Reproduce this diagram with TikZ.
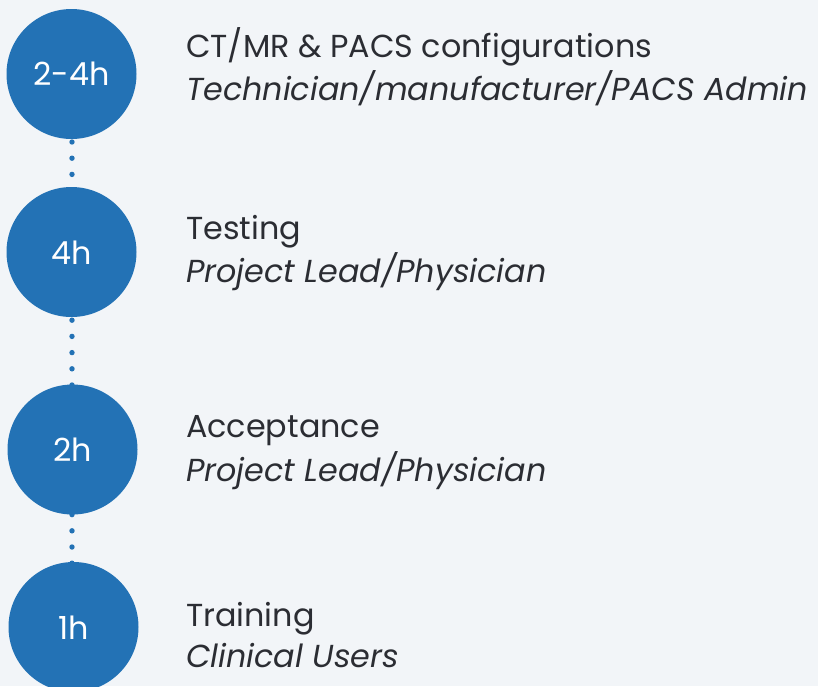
\documentclass[tikz,border=0pt]{standalone}
\usepackage{fontspec}
\setmainfont{Poppins}
\definecolor{bgc}{HTML}{F2F5F8}
\definecolor{stepblue}{HTML}{2372B5}
\definecolor{txt}{HTML}{2B2D33}
\tikzset{
  stepcircle/.style={circle, fill=stepblue, minimum size=130pt, inner sep=0pt},
  steplabel/.style={text=white, font=\fontsize{31.8}{36}\selectfont, anchor=base},
  titletext/.style={text=txt, font=\fontsize{31.8}{36}\selectfont, anchor=base west, inner sep=0pt},
  roletext/.style={text=txt, font=\fontsize{31.8}{36}\selectfont\itshape, anchor=base west, inner sep=0pt},
  dotline/.style={draw=stepblue, line width=5.4pt, line cap=round, dash pattern=on 0pt off 16.2pt, dash phase=13pt}
}
\begin{document}
\begin{tikzpicture}[x=1pt,y=-1pt]
\useasboundingbox[fill=bgc] (0,0) rectangle (818,686);
\coordinate (d1) at (72,74);
\coordinate (d4) at (72,627);
\draw[dotline] (d1) -- (d4);
\node[stepcircle] (c1) at (71.5,74) {};
\node[stepcircle] (c2) at (71.5,252) {};
\node[stepcircle] (c3) at (72.5,449.5) {};
\node[stepcircle] (c4) at (73.5,627) {};
\node[steplabel] (l1) at (71.5,85) {2-4h};
\node[steplabel] (l2) at (71.5,264) {4h};
\node[steplabel] (l3) at (72.5,461) {2h};
\node[steplabel] (l4) at (73.5,639) {1h};
\node[titletext] (t1) at (186,57) {CT/MR \& PACS configurations};
\node[roletext] (r1) at (186,100) {Technician/manufacturer/PACS Admin};
\node[titletext] (t2) at (186,239) {Testing};
\node[roletext] (r2) at (186,282) {Project Lead/Physician};
\node[titletext] (t3) at (186,437) {Acceptance};
\node[roletext] (r3) at (186,481) {Project Lead/Physician};
\node[titletext] (t4) at (186,626) {Training};
\node[roletext] (r4) at (186,667) {Clinical Users};
\end{tikzpicture}
\end{document}
